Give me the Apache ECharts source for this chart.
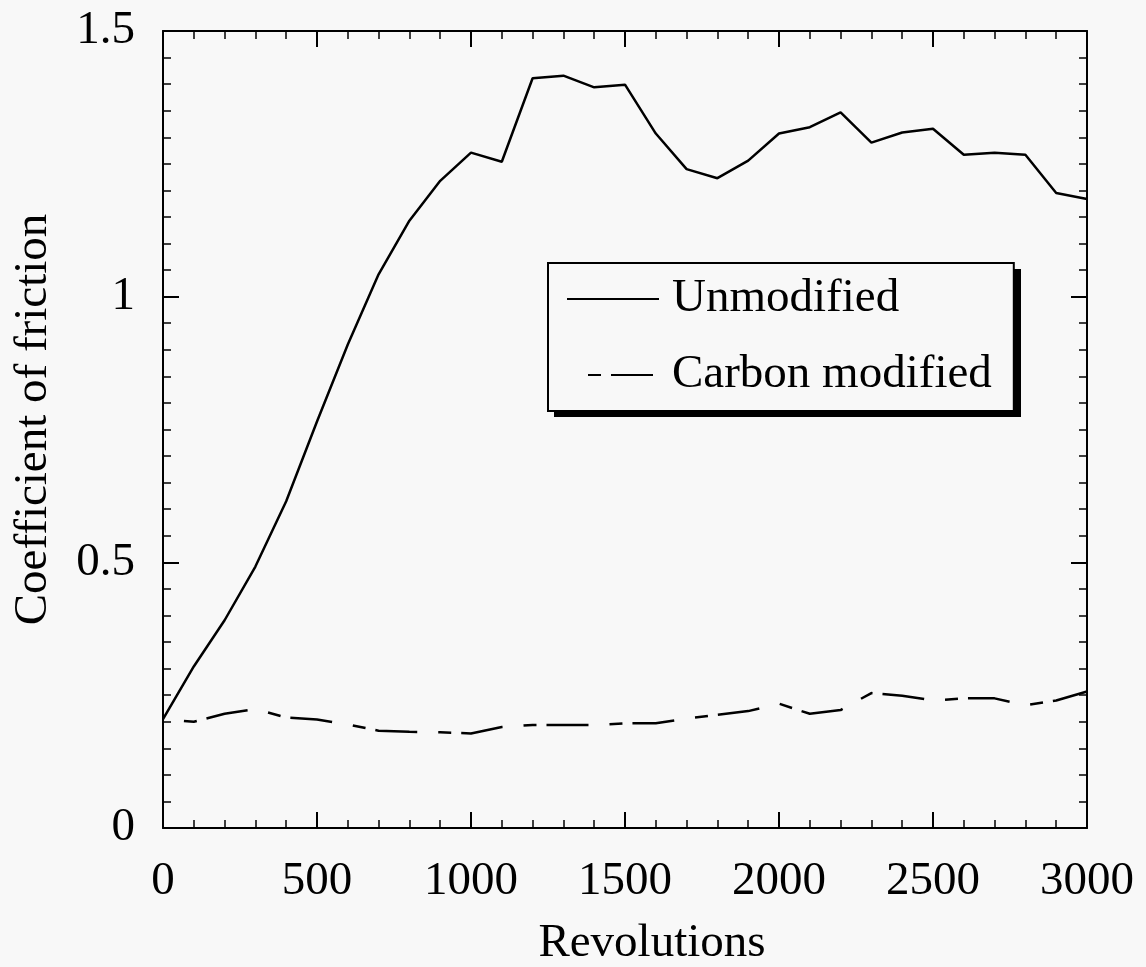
<!DOCTYPE html>
<html>
<head>
<meta charset="utf-8">
<script src="https://cdn.jsdelivr.net/npm/echarts@6/dist/echarts.min.js"></script>
<style>
    html, body { margin: 0; padding: 0; background: #f8f8f8; }
    #friction_chart { width: 1146px; height: 967px; }
</style>
</head>
<body>
<div id="friction_chart"></div>
<script>
// revolutions, one reading every 100
var revs = [0, 100, 200, 300, 400, 500, 600, 700, 800, 900, 1000,
    1100, 1200, 1300, 1400, 1500, 1600, 1700, 1800, 1900, 2000,
    2100, 2200, 2300, 2400, 2500, 2600, 2700, 2800, 2900, 3000];
var unmodified = [0.205, 0.304, 0.391, 0.492, 0.615, 0.765, 0.91, 1.042, 1.143, 1.218, 1.271,
    1.254, 1.411, 1.416, 1.394, 1.399, 1.307, 1.240, 1.223, 1.256, 1.307,
    1.319, 1.347, 1.290, 1.309, 1.316, 1.267, 1.271, 1.267, 1.195, 1.184];
var carbonModified = [0.205, 0.200, 0.215, 0.224, 0.208, 0.204, 0.195, 0.183, 0.181, 0.180, 0.178,
    0.190, 0.194, 0.194, 0.194, 0.197, 0.197, 0.206, 0.213, 0.220, 0.234,
    0.215, 0.222, 0.254, 0.249, 0.240, 0.244, 0.244, 0.231, 0.240, 0.257];
var xTicks = [0, 500, 1000, 1500, 2000, 2500, 3000];
var yTicks = [0, 0.5, 1, 1.5];

function pairs(xs, ys) {
    var out = [];
    for (var i = 0; i < xs.length; i++) {
        out.push([xs[i], ys[i]]);
    }
    return out;
}

var serif = 'Liberation Serif';
var ink = '#000';

// one side of the box frame, ticks pointing into the plot
function frameAxis(pos, isX, showLabel) {
    var ticks = isX ? xTicks : yTicks;
    return {
        type: 'value',
        position: pos,
        min: ticks[0],
        max: ticks[ticks.length - 1],
        interval: ticks[1] - ticks[0],
        axisLine: { show: true, onZero: false, lineStyle: { color: ink, width: 2 } },
        axisTick: { show: true, inside: true, length: 16, lineStyle: { color: ink, width: 2 } },
        minorTick: { show: true, splitNumber: isX ? 5 : 10, length: 8, lineStyle: { color: ink, width: 1.5 } },
        splitLine: { show: false },
        axisLabel: {
            show: showLabel,
            color: ink,
            fontFamily: serif,
            fontSize: 47,
            margin: isX ? 30 : 28,
            formatter: function (v) { return String(v); }
        }
    };
}

var xMain = frameAxis('bottom', true, true);
xMain.name = 'Revolutions';
xMain.nameLocation = 'middle';
xMain.nameGap = 92;
xMain.nameTextStyle = { color: ink, fontFamily: serif, fontSize: 47, padding: [0, 0, 0, 54] };

var yMain = frameAxis('left', false, true);
yMain.name = 'Coefficient of friction';
yMain.nameLocation = 'middle';
yMain.nameGap = 106;
yMain.nameTextStyle = { color: ink, fontFamily: serif, fontSize: 47, padding: [0, 0, 0, 20] };

var myChart = echarts.init(document.getElementById('friction_chart'));
var option = {
    backgroundColor: '#f8f8f8',
    animation: false,
    grid: {
        left: 163,
        right: 59,
        top: 31,
        bottom: 139,
        containLabel: false,
        outerBoundsMode: 'none'
    },
    // hard drop shadow behind the legend box
    graphic: [{
        type: 'rect',
        left: 554,
        top: 269,
        z: 0,
        shape: { width: 467, height: 148 },
        style: { fill: ink }
    }],
    legend: {
        orient: 'vertical',
        left: 548,
        top: 263,
        z: 5,
        padding: [11, 22, 11, 18],
        itemWidth: 92,
        itemHeight: 20,
        itemGap: 26,
        backgroundColor: '#f8f8f8',
        borderColor: ink,
        borderWidth: 2,
        borderRadius: 0,
        itemStyle: { opacity: 0 },
        textStyle: {
            color: ink,
            fontFamily: serif,
            fontSize: 47,
            lineHeight: 50,
            padding: [0, 0, 0, 8]
        },
        data: ['Unmodified', 'Carbon modified']
    },
    xAxis: [xMain, frameAxis('top', true, false)],
    yAxis: [yMain, frameAxis('right', false, false)],
    series: [{
        name: 'Unmodified',
        type: 'line',
        data: pairs(revs, unmodified),
        symbol: 'none',
        lineStyle: { color: ink, width: 2.5, type: 'solid' },
        itemStyle: { color: ink }
    }, {
        name: 'Carbon modified',
        type: 'line',
        data: pairs(revs, carbonModified),
        symbol: 'none',
        lineStyle: { color: ink, width: 2.5, type: [42, 21, 13, 10], dashOffset: 42 },
        itemStyle: { color: ink }
    }]
};
myChart.setOption(option);
</script>
</body>
</html>
